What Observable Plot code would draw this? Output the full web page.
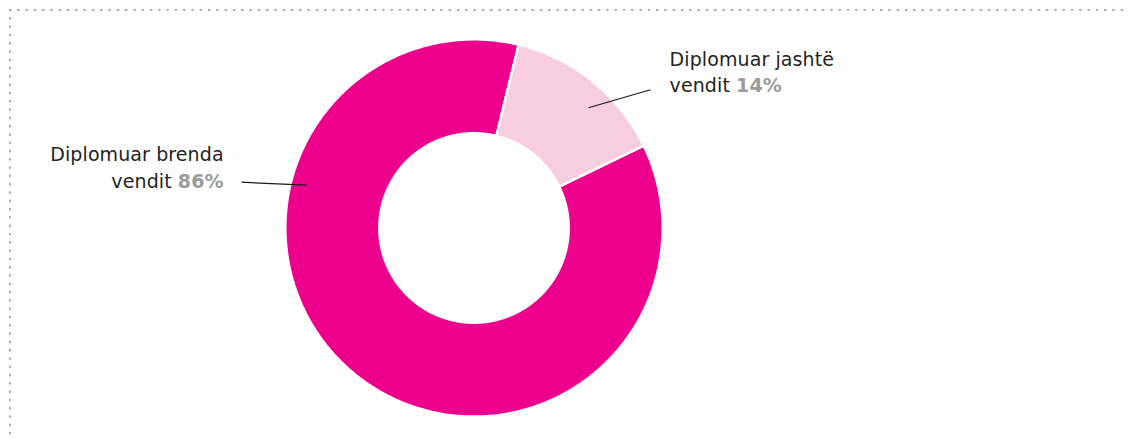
<!DOCTYPE html>
<html>
<head>
<meta charset="utf-8">
<script src="https://cdn.jsdelivr.net/npm/d3@7"></script>
<script src="https://cdn.jsdelivr.net/npm/@observablehq/plot@0.6"></script>
<style>
  html, body { margin: 0; padding: 0; background: #fff; }
  #wrap { position: relative; width: 1133px; height: 439px; overflow: hidden; }
  #chart { position: absolute; left: 0; top: 0; }
  .dots-h { position: absolute; left: 8px; top: 8px; width: 1120px; height: 4px;
    background-image: radial-gradient(circle at 2px 2px, #a8a8a8 1.1px, transparent 1.5px);
    background-size: 8.3px 4px; background-repeat: repeat-x; }
  .dots-v { position: absolute; left: 8px; top: 8px; width: 4px; height: 440px;
    background-image: radial-gradient(circle at 2px 2px, #a8a8a8 1.1px, transparent 1.5px);
    background-size: 4px 8.3px; background-repeat: repeat-y; }
</style>
</head>
<body>
<div id="wrap">
  <div id="chart"></div>
  <div class="dots-h"></div>
  <div class="dots-v"></div>
</div>
<script>
// ---- data ----
const categories = ["Diplomuar brenda vendit", "Diplomuar jashtë vendit"];
const labelLine1 = ["Diplomuar brenda", "Diplomuar jashtë"];
const labelLine2 = ["vendit", "vendit"];
const values = [86, 14];
const colors = ["#ec008c", "#f8cde0"];

// ---- layout (unit circle coordinates, y up) ----
const startDeg = 64.1;          // clockwise from 12 o'clock
const outerR = 1.006, innerR = 0.505;
const labelAnchor = ["end", "start"];
const labelX = [-1.335, 1.043];
const labelY = [0.211, 0.724];
const leaderFrom = [[-1.240, 0.244], [0.941, 0.737]];
const leaderTo = [[-0.893, 0.228], [0.611, 0.641]];

// ---- build slices from pie angles ----
const rad = (d) => d * Math.PI / 180;
const pie = d3.pie().sort(null).value(d => d)
  .startAngle(rad(startDeg)).endAngle(rad(startDeg) + 2 * Math.PI);
const arcs = pie(values);
const slicePts = [];
arcs.forEach((a, i) => {
  const n = Math.max(8, Math.ceil((a.endAngle - a.startAngle) / 0.01));
  const pts = [];
  for (let k = 0; k <= n; k++) {
    const t = a.startAngle + (a.endAngle - a.startAngle) * k / n;
    pts.push({x: outerR * Math.sin(t), y: outerR * Math.cos(t)});
  }
  for (let k = n; k >= 0; k--) {
    const t = a.startAngle + (a.endAngle - a.startAngle) * k / n;
    pts.push({x: innerR * Math.sin(t), y: innerR * Math.cos(t)});
  }
  pts.push(pts[0]);
  pts.forEach(p => slicePts.push({...p, cat: categories[i]}));
});

const labels = categories.map((c, i) => ({
  cat: c,
  x: labelX[i], y: labelY[i], anchor: labelAnchor[i],
  text: labelLine1[i] + "\n" + labelLine2[i] + " " + values[i] + "%",
  x1: leaderFrom[i][0], y1: leaderFrom[i][1],
  x2: leaderTo[i][0], y2: leaderTo[i][1]
}));

const font = "DejaVu Sans, sans-serif";
const plot = Plot.plot({
  width: 1133,
  height: 439,
  margin: 0,
  x: {domain: [-2.525, 3.517], axis: null},
  y: {domain: [-1.128, 1.213], axis: null},
  color: {domain: categories, range: colors},
  style: {fontFamily: font, background: "transparent"},
  marks: [
    Plot.line(slicePts, {x: "x", y: "y", z: "cat", fill: "cat", stroke: "#ffffff",
      strokeWidth: 2.5, curve: "linear", strokeLinejoin: "miter"}),
    Plot.link(labels, {x1: "x1", y1: "y1", x2: "x2", y2: "y2",
      stroke: "#1a1a1a", strokeWidth: 1.2}),
    Plot.text(labels.filter(d => d.anchor === "end"), {x: "x", y: "y", text: "text",
      textAnchor: "end", lineAnchor: "bottom", lineHeight: 1.44, fontSize: 19,
      fill: "#231f20"}),
    Plot.text(labels.filter(d => d.anchor === "start"), {x: "x", y: "y", text: "text",
      textAnchor: "start", lineAnchor: "bottom", lineHeight: 1.4, fontSize: 19,
      fill: "#231f20"})
  ]
});

// style the percentages bold grey
plot.querySelectorAll("text tspan").forEach(ts => {
  const m = ts.textContent.match(/^(.*\s)(\d+%)$/);
  if (m) {
    ts.textContent = m[1];
    const b = document.createElementNS("http://www.w3.org/2000/svg", "tspan");
    b.setAttribute("font-weight", "bold");
    b.setAttribute("fill", "#9b9b9b");
    b.textContent = m[2];
    ts.appendChild(b);
  }
});
plot.querySelectorAll("text").forEach(t => t.setAttribute("letter-spacing", "0.1"));

document.getElementById("chart").appendChild(plot);
</script>
</body>
</html>
